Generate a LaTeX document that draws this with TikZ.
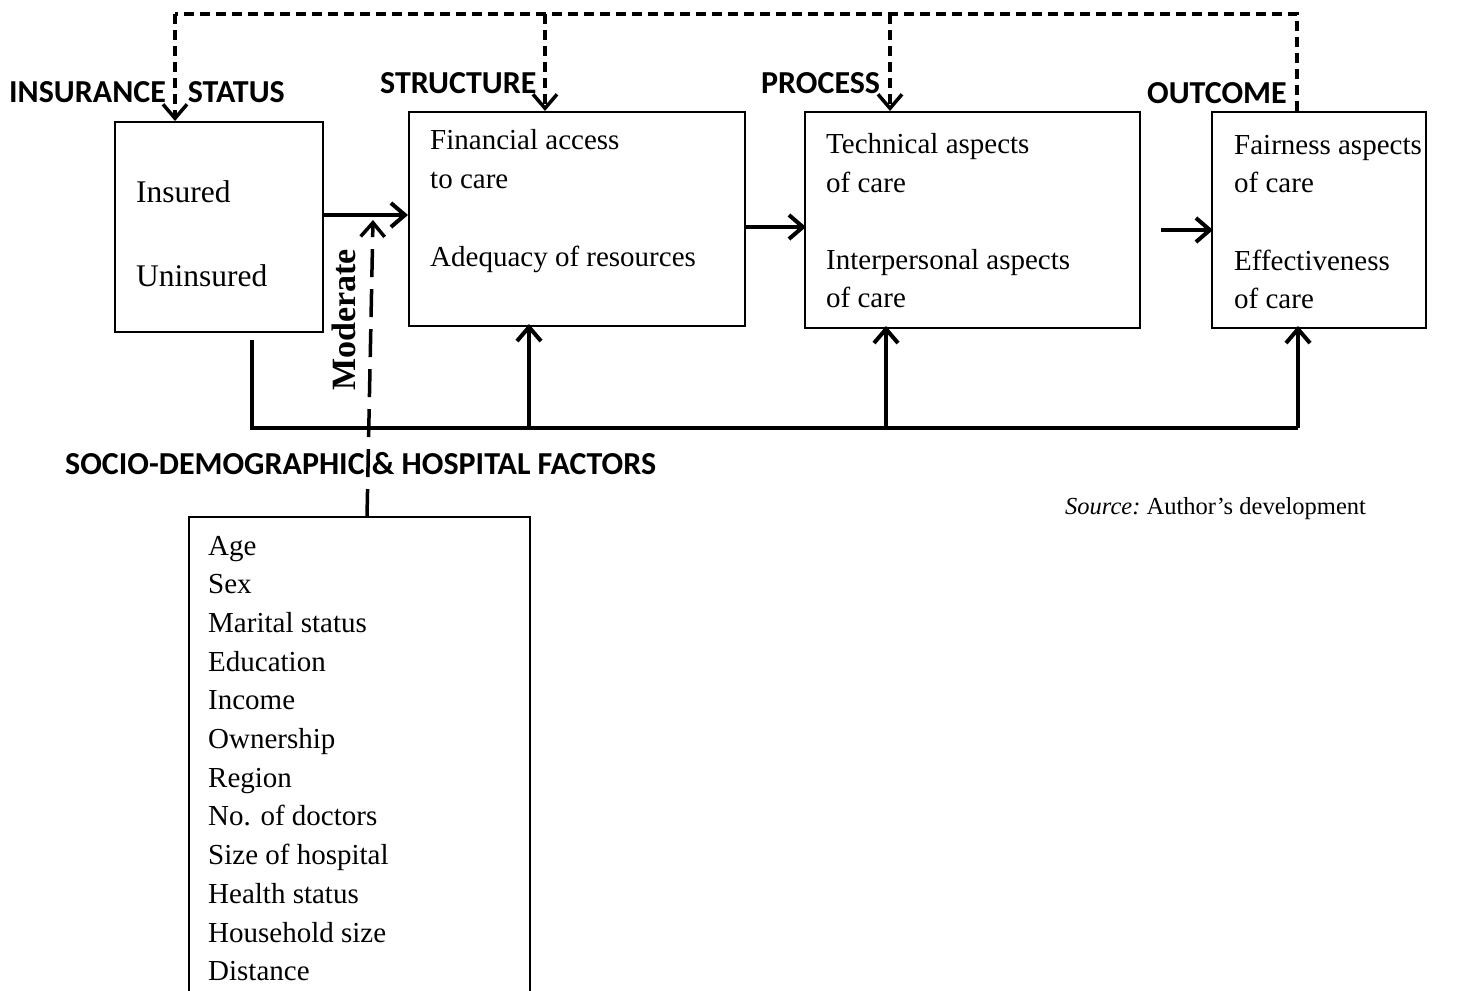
\documentclass[tikz,border=0pt]{standalone}
\usepackage{fontspec}
\setmainfont{Liberation Serif}
\newfontfamily\headfont{Carlito}
\usetikzlibrary{arrows.meta,calc}
\begin{document}
\begin{tikzpicture}[x=1pt,y=-1pt,
  box/.style={draw,line width=2pt,inner sep=0pt},
  txt/.style={anchor=base west,inner sep=0pt,font=\fontsize{29}{35}\selectfont},
  bigtxt/.style={txt,font=\fontsize{31.5}{38}\selectfont},
  head/.style={anchor=base west,inner sep=0pt,font=\headfont\bfseries\fontsize{32}{38}\selectfont},
  tip/.style={-{Straight Barb[length=14pt,width=24pt]}},
  solidarr/.style={line width=4pt,tip},
  feedback/.style={line width=3.5pt,dash pattern=on 10pt off 6pt},
  moderation/.style={line width=3.5pt,dash pattern=on 28pt off 12pt},
]
\useasboundingbox (0,0) rectangle (1460,991);
\clip (0,0) rectangle (1460,991);

% main boxes
\node[box,minimum width=208pt,minimum height=210pt] (ins) at (219,227) {};
\node[box,minimum width=336pt,minimum height=214pt] (str) at (577,219) {};
\node[box,minimum width=335pt,minimum height=216pt] (pro) at (972.5,220) {};
\node[box,minimum width=214pt,minimum height=216pt] (out) at (1319,220) {};
\node[box,minimum width=341pt,minimum height=490pt] (fac) at (359.5,762) {};

% headings
\node[head] (hins) at (9,102) {INSURANCE\hspace*{22pt}STATUS};
\node[head] (hstr) at (380,93) {STRUCTURE};
\node[head] (hpro) at (761,93) {PROCESS};
\node[head] (hout) at (1147,103) {OUTCOME};
\node[head] (hfac) at (65,474) {SOCIO-DEMOGRAPHIC \& HOSPITAL FACTORS};

% box contents
\node[bigtxt] (t1) at (136,202) {Insured};
\node[bigtxt] (t2) at (136,286) {Uninsured};
\node[txt] (t3) at (430,149) {Financial access};
\node[txt] (t4) at (430,188) {to care};
\node[txt] (t5) at (430,266) {Adequacy of resources};
\node[txt] (t6) at (826,153) {Technical aspects};
\node[txt] (t7) at (826,192) {of care};
\node[txt] (t8) at (826,269) {Interpersonal aspects};
\node[txt] (t9) at (826,307) {of care};
\node[txt] (t10) at (1234,154) {Fairness aspects};
\node[txt] (t11) at (1234,192) {of care};
\node[txt] (t12) at (1234,270) {Effectiveness};
\node[txt] (t13) at (1234,308) {of care};

\foreach \item [count=\i from 0] in {Age,Sex,Marital status,Education,Income,Ownership,Region,No. of doctors,Size of hospital,Health status,Household size,Distance}
  \node[txt] (f\i) at (208,555+38.7*\i) {\item};

\node[txt,font=\fontsize{24.5}{30}\selectfont] (src) at (1065,514) {\textit{Source:}~Author's development};

% flow between the stages
\coordinate (ya) at (0,215);
\coordinate (yb) at (0,227);
\coordinate (yc) at (0,230);
\draw[solidarr] (ins.east |- ya) -- (str.west |- ya);
\draw[solidarr] (str.east |- yb) -- ([xshift=2pt]pro.west |- yb);
\draw[solidarr] ([xshift=20pt]pro.east |- yc) -- ([xshift=2pt]out.west |- yc);

% feedback loop along the top
\coordinate (k1) at (175,14);
\coordinate (k2) at (545,14);
\coordinate (k3) at (890,14);
\coordinate (k4) at (1297,14);
\draw[feedback] (out.north -| k4) -- (k4) -- (k1);
\draw[feedback,tip] (k1) -- (ins.north -| k1);
\draw[feedback,tip] (k2) -- (str.north -| k2);
\draw[feedback,tip] (k3) -- (pro.north -| k3);

% direct links from insurance status
\coordinate (b0) at (252,340);
\coordinate (b1) at (252,428);
\coordinate (b2) at (1298,428);
\coordinate (j1) at (529,428);
\coordinate (j2) at (886,428);
\draw[line width=4pt] (b0) -- (b1) -- (b2);
\draw[solidarr] (b2) -- ([yshift=3pt]out.south -| b2);
\draw[solidarr] (j1) -- ([yshift=3pt]str.south -| j1);
\draw[solidarr] (j2) -- ([yshift=3pt]pro.south -| j2);

% moderating effect
\coordinate (m0) at (367,517);
\coordinate (m1) at (373,220);
\draw[moderation,tip] (m0) -- (m1);
\node[rotate=90,font=\bfseries\fontsize{34}{40}\selectfont,inner sep=0pt] (mod) at (344,320) {Moderate};
\end{tikzpicture}
\end{document}
